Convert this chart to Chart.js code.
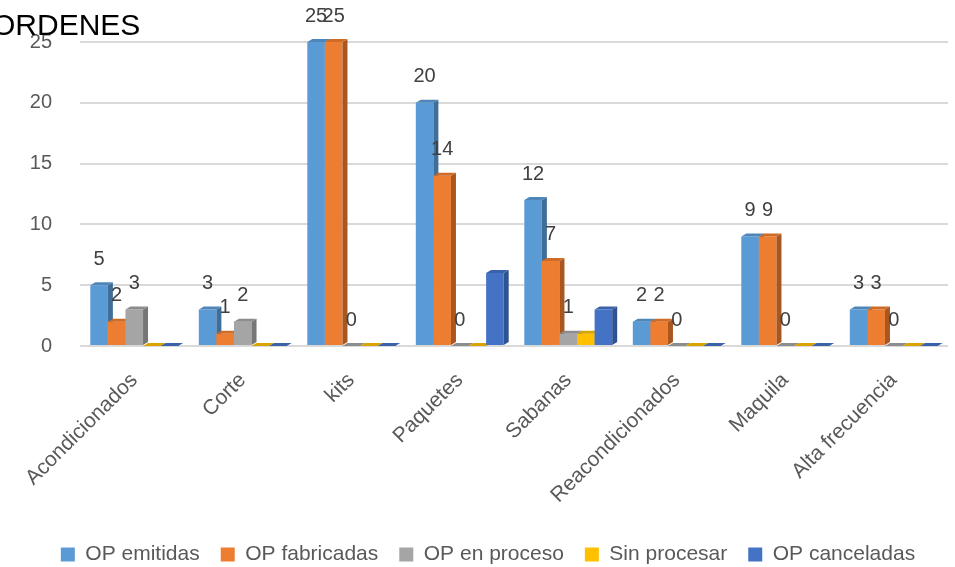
<!DOCTYPE html>
<html>
<head>
<meta charset="utf-8">
<script src="https://cdn.jsdelivr.net/npm/chart.js@4.4.1/dist/chart.umd.min.js"></script>
<style>
  html, body { margin: 0; padding: 0; background: #ffffff; }
  #wrap { width: 955px; height: 567px; }
</style>
</head>
<body>
<div id="wrap"><canvas id="ordenesChart" width="955" height="567"></canvas></div>
<script>
// --- DATOS ---
const categories = ['Acondicionados', 'Corte', 'kits', 'Paquetes', 'Sabanas', 'Reacondicionados', 'Maquila', 'Alta frecuencia'];
const seriesNames = ['OP emitidas', 'OP fabricadas', 'OP en proceso', 'Sin procesar', 'OP canceladas'];
const opEmitidas   = [5, 3, 25, 20, 12, 2, 9, 3];
const opFabricadas = [2, 1, 25, 14, 7, 2, 9, 3];
const opEnProceso  = [3, 2, 0, 0, 1, 0, 0, 0];
const sinProcesar  = [0, 0, 0, 0, 1, 0, 0, 0];
const opCanceladas = [0, 0, 0, 6, 3, 0, 0, 0];
const yTicks = [0, 5, 10, 15, 20, 25];

// colores estilo Excel (frente, lado, tapa)
const frontColors = ['#5B9BD5', '#ED7D31', '#A5A5A5', '#FFC000', '#4472C4'];
const sideColors  = ['#3F6E99', '#A9571F', '#767676', '#B88A00', '#2F5290'];
const topColors   = ['#4F86B9', '#CF6A27', '#8C8C8C', '#D9A300', '#3A62A8'];
const labeledSeries = 3; // solo las tres primeras series llevan etiqueta

const FONT = "'Liberation Sans', Arial, sans-serif";
const DX = 5, DY = 3;

function drawFaces(ctx, meta, i) {
    meta.data.forEach(bar => {
        const { x, y, base, width } = bar.getProps(['x', 'y', 'base', 'width'], true);
        const l = x - width / 2, r = x + width / 2;
        ctx.fillStyle = sideColors[i];
        ctx.beginPath();
        ctx.moveTo(r, y); ctx.lineTo(r + DX, y - DY);
        ctx.lineTo(r + DX, base - DY); ctx.lineTo(r, base);
        ctx.closePath(); ctx.fill();
        ctx.fillStyle = topColors[i];
        ctx.beginPath();
        ctx.moveTo(l, y); ctx.lineTo(l + DX, y - DY);
        ctx.lineTo(r + DX, y - DY); ctx.lineTo(r, y);
        ctx.closePath(); ctx.fill();
    });
}

// dibuja las series de izquierda a derecha, cada una con su cara lateral y superior
const bar3d = {
    id: 'bar3d',
    beforeDatasetsDraw(chart) {
        const ctx = chart.ctx;
        ctx.save();
        for (let i = 0; i < chart.data.datasets.length; i++) {
            const meta = chart.getDatasetMeta(i);
            meta.controller.draw();
            drawFaces(ctx, meta, i);
        }
        ctx.restore();
        return false;
    }
};

// etiquetas de valor y título
const labelsAndTitle = {
    id: 'labelsAndTitle',
    afterDraw(chart) {
        const ctx = chart.ctx;
        ctx.save();
        ctx.font = '20px ' + FONT;
        ctx.fillStyle = '#404040';
        ctx.textAlign = 'center';
        ctx.textBaseline = 'middle';
        for (let d = 0; d < labeledSeries; d++) {
            const meta = chart.getDatasetMeta(d);
            meta.data.forEach((bar, k) => {
                const { x, y } = bar.getProps(['x', 'y'], true);
                ctx.fillText(String(chart.data.datasets[d].data[k]), x, y - 26);
            });
        }
        ctx.font = '30px ' + FONT;
        ctx.fillStyle = '#000000';
        ctx.textAlign = 'left';
        ctx.textBaseline = 'alphabetic';
        ctx.fillText('ORDENES', -8, 35);
        ctx.restore();
    }
};

const seriesData = [opEmitidas, opFabricadas, opEnProceso, sinProcesar, opCanceladas];

new Chart(document.getElementById('ordenesChart'), {
    type: 'bar',
    data: {
        labels: categories,
        datasets: seriesData.map((data, i) => ({
            label: seriesNames[i],
            data: data,
            backgroundColor: frontColors[i],
            borderWidth: 0,
            categoryPercentage: 0.81,
            barPercentage: 1.0
        }))
    },
    options: {
        responsive: false,
        animation: false,
        layout: { padding: { top: 42, left: 28, right: 7, bottom: -8 } },
        plugins: {
            legend: {
                position: 'bottom',
                labels: {
                    color: '#595959',
                    font: { size: 21, family: FONT },
                    boxWidth: 14,
                    boxHeight: 14,
                    padding: 21
                }
            },
            tooltip: { enabled: false }
        },
        scales: {
            x: {
                grid: { display: false },
                border: { display: false },
                ticks: {
                    color: '#595959',
                    font: { size: 21, family: FONT },
                    minRotation: 45,
                    maxRotation: 45,
                    padding: 14
                },
                afterFit: scale => {
                    scale.height = 177;
                    scale.paddingLeft = 0;
                    scale.paddingRight = 0;
                }
            },
            y: {
                min: 0,
                max: 25,
                afterBuildTicks: scale => { scale.ticks = yTicks.map(v => ({ value: v })); },
                grid: { color: '#D9D9D9', lineWidth: 2, drawTicks: false },
                border: { display: false },
                ticks: {
                    color: '#595959',
                    font: { size: 20, family: FONT },
                    padding: 28
                },
                afterFit: scale => { scale.width = 52; }
            }
        }
    },
    plugins: [bar3d, labelsAndTitle]
});
</script>
</body>
</html>
